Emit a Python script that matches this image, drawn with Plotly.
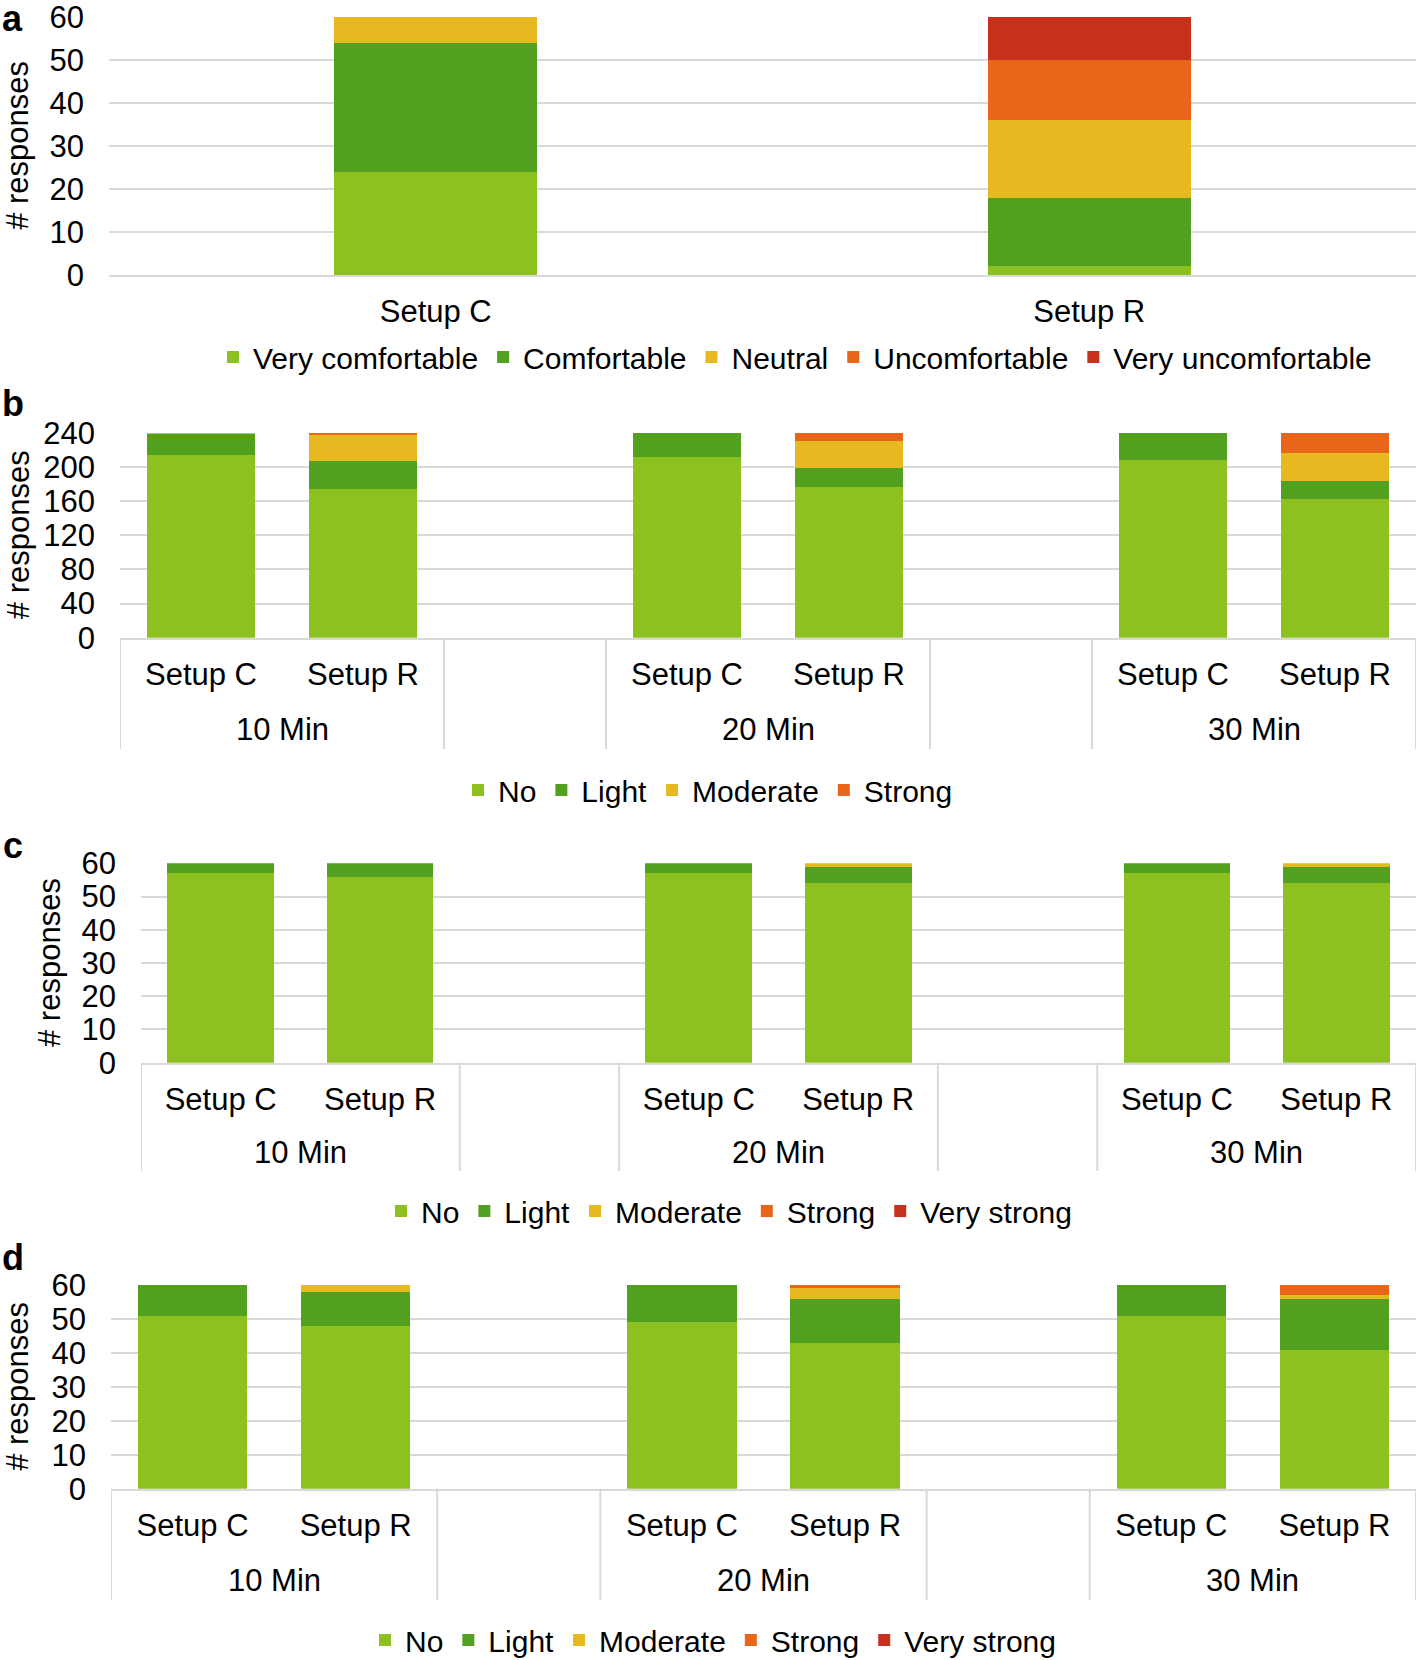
import plotly.graph_objects as go

# ---------------- data ----------------
setups_a = ["Setup C", "Setup R"]
very_comfortable = [24, 2]
comfortable = [30, 16]
neutral = [6, 18]
uncomfortable = [0, 14]
very_uncomfortable = [0, 10]

# slots: 10 Min (C, R), 20 Min (C, R), 30 Min (C, R)
setup_labels = ["Setup C", "Setup R", "Setup C", "Setup R", "Setup C", "Setup R"]
time_labels = ["10 Min", "20 Min", "30 Min"]

b_no = [214, 174, 212, 176, 208, 162]
b_light = [25, 33, 28, 23, 32, 22]
b_moderate = [1, 30, 0, 31, 0, 32]
b_strong = [0, 3, 0, 10, 0, 24]

c_no = [57, 56, 57, 54, 57, 54]
c_light = [3, 4, 3, 5, 3, 5]
c_moderate = [0, 0, 0, 1, 0, 1]
c_strong = [0, 0, 0, 0, 0, 0]
c_very_strong = [0, 0, 0, 0, 0, 0]

d_no = [51, 48, 49, 43, 51, 41]
d_light = [9, 10, 11, 13, 9, 15]
d_moderate = [0, 2, 0, 3, 0, 1]
d_strong = [0, 0, 0, 1, 0, 3]
d_very_strong = [0, 0, 0, 0, 0, 0]

# ---------------- style ----------------
W, H = 1416, 1660
FONT = "Arial, Liberation Sans, sans-serif"
FS = 31
LFS = 30
C_LGREEN = "#8DC021"
C_DGREEN = "#52A020"
C_YELLOW = "#E6B920"
C_ORANGE = "#E8661A"
C_RED = "#C8301E"
GRID = "#D9D9D9"

# slot positions on a numeric axis (blank slot between time groups)
slot_x = [0, 1, 3, 4, 6, 7]
group_x = [0.5, 3.5, 6.5]
sep_x = [-0.5, 1.5, 2.5, 4.5, 5.5, 7.5]


def px_x(p):
    return p / W


def px_y(p):
    return 1 - p / H


fig = go.Figure()

# panel a
for name, vals, col in [("Very comfortable", very_comfortable, C_LGREEN),
                        ("Comfortable", comfortable, C_DGREEN),
                        ("Neutral", neutral, C_YELLOW),
                        ("Uncomfortable", uncomfortable, C_ORANGE),
                        ("Very uncomfortable", very_uncomfortable, C_RED)]:
    fig.add_trace(go.Bar(x=setups_a, y=vals, name=name, marker=dict(color=col, line=dict(width=0)),
                         width=0.31, xaxis="x", yaxis="y", legend="legend"))

panels = [
    ("2", "legend2", [("No", b_no, C_LGREEN), ("Light", b_light, C_DGREEN),
                      ("Moderate", b_moderate, C_YELLOW), ("Strong", b_strong, C_ORANGE)]),
    ("3", "legend3", [("No", c_no, C_LGREEN), ("Light", c_light, C_DGREEN),
                      ("Moderate", c_moderate, C_YELLOW), ("Strong", c_strong, C_ORANGE),
                      ("Very strong", c_very_strong, C_RED)]),
    ("4", "legend4", [("No", d_no, C_LGREEN), ("Light", d_light, C_DGREEN),
                      ("Moderate", d_moderate, C_YELLOW), ("Strong", d_strong, C_ORANGE),
                      ("Very strong", d_very_strong, C_RED)]),
]
for k, leg, series in panels:
    for name, vals, col in series:
        fig.add_trace(go.Bar(x=slot_x, y=vals, name=name, marker=dict(color=col, line=dict(width=0)),
                             width=0.67, xaxis="x" + k, yaxis="y" + k, legend=leg))

# geometry (pixels) for each panel: left, top, bottom, ymax, dtick
geo = {
    "": dict(left=109, top=16.7, bottom=275, ymax=60, dtick=10),
    "2": dict(left=120, top=432.7, bottom=637.7, ymax=240, dtick=40),
    "3": dict(left=141, top=863.3, bottom=1062.7, ymax=60, dtick=10),
    "4": dict(left=111, top=1285, bottom=1488.7, ymax=60, dtick=10),
}

layout = dict(
    width=W, height=H, margin=dict(l=0, r=0, t=0, b=0, autoexpand=False),
    paper_bgcolor="white", plot_bgcolor="white",
    barmode="stack", font=dict(family=FONT, size=FS, color="#000000"),
    showlegend=True,
)

for k, g in geo.items():
    xa = "xaxis" + k
    ya = "yaxis" + k
    layout[ya] = dict(
        domain=[px_y(g["bottom"]), px_y(g["top"])],
        range=[0, g["ymax"]], tick0=0, dtick=g["dtick"],
        showgrid=True, gridcolor=GRID, gridwidth=2, zeroline=False,
        showline=False, ticks="", ticklabelstandoff=24, automargin=False,
        ticklabeloverflow="allow",
        tickfont=dict(family=FONT, size=FS, color="#000000"),
        anchor="x" + k, fixedrange=True,
    )
    xd = dict(
        domain=[px_x(g["left"]), 1], anchor="y" + k, automargin=False,
        showgrid=False, zeroline=False, showline=True, linecolor=GRID, linewidth=2,
        ticks="", ticklabelstandoff=8, ticklabeloverflow="allow",
        tickfont=dict(family=FONT, size=FS, color="#000000"), fixedrange=True,
    )
    if k == "":
        xd.update(type="category", range=[-0.5, 1.5])
    else:
        xd.update(range=[-0.5, 7.5], tickmode="array", tickvals=slot_x, ticktext=setup_labels)
    layout[xa] = xd

# legends
leg_common = dict(orientation="h", xanchor="center", yanchor="middle",
                  font=dict(family=FONT, size=LFS, color="#000000"),
                  bgcolor="rgba(0,0,0,0)", traceorder="normal")
layout["legend"] = dict(leg_common, x=px_x(795), y=px_y(357))
layout["legend2"] = dict(leg_common, x=px_x(708), y=px_y(790))
layout["legend3"] = dict(leg_common, x=px_x(729), y=px_y(1211))
layout["legend4"] = dict(leg_common, x=px_x(713), y=px_y(1640))

fig.update_layout(**layout)

annotations = []
shapes = []

# panel letters
for letter, xc, yc in [("a", 12, 18), ("b", 13, 403), ("c", 13, 845), ("d", 13, 1257)]:
    annotations.append(dict(text="<b>%s</b>" % letter, x=px_x(xc), y=px_y(yc), xref="paper", yref="paper",
                            xanchor="center", yanchor="middle", showarrow=False,
                            font=dict(family=FONT, size=36, color="#000000")))

# y-axis titles
for xc, k in [(18, ""), (18, "2"), (49, "3"), (18, "4")]:
    g = geo[k]
    annotations.append(dict(text="# responses", textangle=-90, x=px_x(xc), y=px_y((g["top"] + g["bottom"]) / 2),
                            xref="paper", yref="paper", xanchor="center", yanchor="middle",
                            showarrow=False, font=dict(family=FONT, size=FS, color="#000000")))

# group labels and separators
for k, label_y, sep_bottom in [("2", 730, 749), ("3", 1152, 1171), ("4", 1580, 1600)]:
    for gx, txt in zip(group_x, time_labels):
        annotations.append(dict(text=txt, x=gx, y=px_y(label_y), xref="x" + k, yref="paper",
                                xanchor="center", yanchor="middle", showarrow=False,
                                font=dict(family=FONT, size=FS, color="#000000")))
    g = geo[k]
    for sx in sep_x:
        shapes.append(dict(type="line", xref="x" + k, yref="paper", x0=sx, x1=sx,
                           y0=px_y(g["bottom"]), y1=px_y(sep_bottom),
                           line=dict(color=GRID, width=2)))

fig.update_layout(annotations=annotations, shapes=shapes)

fig.write_html("out.html", config={"displayModeBar": False},
               post_script="document.body.style.margin='0px';")
